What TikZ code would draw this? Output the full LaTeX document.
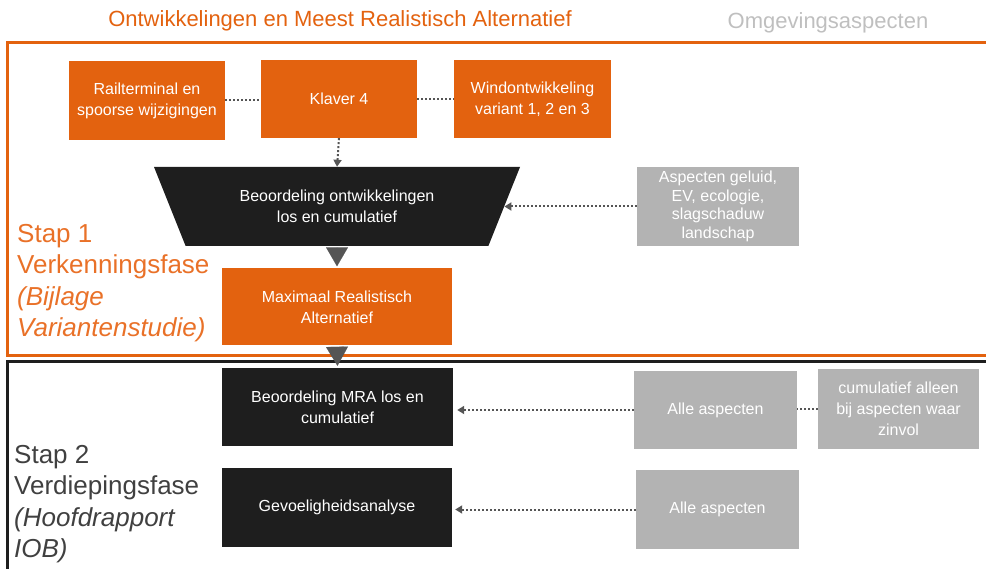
\documentclass[tikz,border=0pt]{standalone}
\usepackage{fontspec}
\setmainfont{Liberation Sans}
\usetikzlibrary{shapes.geometric, arrows.meta}
\definecolor{ontworanje}{RGB}{227,98,15}
\definecolor{tekstoranje}{RGB}{233,113,40}
\definecolor{vakgrijs}{RGB}{179,179,179}
\definecolor{vakzwart}{RGB}{30,30,30}
\definecolor{pijlgrijs}{RGB}{85,85,85}
\definecolor{kopgrijs}{RGB}{191,191,191}
\definecolor{stapgrijs}{RGB}{64,64,64}

\begin{document}
\begin{tikzpicture}[x=1pt, y=-1pt,
	vak/.style={rectangle, text=white, align=center, inner sep=1pt,
		font=\fontsize{16}{21}\selectfont},
	oranjevak/.style={vak, fill=ontworanje},
	zwartvak/.style={vak, fill=vakzwart},
	grijsvak/.style={vak, fill=vakgrijs},
	trechter/.style={vak, fill=vakzwart, trapezium, shape border rotate=180,
		trapezium angle=47.7, trapezium stretches body,
		minimum width=366pt, minimum height=79pt},
	stippel/.style={draw=pijlgrijs, line width=2pt, dash pattern=on 2pt off 2pt},
	stippelpijl/.style={stippel, -{Triangle[width=8pt, length=7pt]}},
	blokpijl/.style={draw=pijlgrijs, fill=pijlgrijs, line width=0.1pt,
		-{Triangle[width=22pt, length=19pt]}, shorten <=2pt, shorten >=2pt},
	kop/.style={font=\fontsize{22}{26}\selectfont},
	staptekst/.style={anchor=north west, inner sep=0pt, align=left,
		font=\fontsize{26}{31.5}\selectfont}]
	\useasboundingbox (0,0) rectangle (986,569);
	\clip (0,0) rectangle (986,569);

	\node [kop, text=ontworanje] (kopontw) at (340,21) {Ontwikkelingen en Meest Realistisch Alternatief};
	\node [kop, text=kopgrijs] (kopomg) at (828,23) {Omgevingsaspecten};

	\draw [ontworanje, line width=3pt] (995,43) -| (7,356) -- (995,356);
	\draw [vakzwart, line width=3pt] (995,362) -| (7,580);

	\node [oranjevak, minimum width=156pt, minimum height=79pt] (rail) at (147,100.5) {Railterminal en\\spoorse wijzigingen};
	\node [oranjevak, minimum width=156pt, minimum height=78pt] (klaver) at (339,99) {Klaver 4};
	\node [oranjevak, minimum width=157pt, minimum height=78pt] (wind) at (532.5,99) {Windontwikkeling\\variant 1, 2 en 3};
	\node [trechter] (trap) at (337,206.5) {Beoordeling ontwikkelingen\\los en cumulatief};
	\node [oranjevak, minimum width=230pt, minimum height=77pt] (mra) at (337,307) {Maximaal Realistisch\\Alternatief};
	\node [grijsvak, minimum width=162pt, minimum height=79pt, font=\fontsize{16}{18.5}\selectfont] (aspect) at (718,206.5) {Aspecten geluid,\\EV, ecologie,\\slagschaduw\\landschap};

	\node [zwartvak, minimum width=231pt, minimum height=78pt] (mrabeoord) at (337.5,407) {Beoordeling MRA los en\\cumulatief};
	\node [zwartvak, minimum width=230pt, minimum height=79pt] (gevoel) at (337,507.5) {Gevoeligheidsanalyse};
	\node [grijsvak, minimum width=163pt, minimum height=77pt] (alle1) at (715.5,410) {Alle aspecten};
	\node [grijsvak, minimum width=161pt, minimum height=80pt] (cumul) at (898.5,409) {cumulatief alleen\\bij aspecten waar\\zinvol};
	\node [grijsvak, minimum width=163pt, minimum height=79pt] (alle2) at (717.5,509.5) {Alle aspecten};

	\node [staptekst, text=tekstoranje] (stap1) at (17,224) {Stap 1\\Verkenningsfase\\\textit{(Bijlage}\\\textit{Variantenstudie)}};
	\node [staptekst, text=stapgrijs] (stap2) at (14,445) {Stap 2\\Verdiepingsfase\\\textit{(Hoofdrapport}\\\textit{IOB)}};

	\draw [stippel] (rail.east) -- (rail.east -| klaver.west);
	\draw [stippel] (klaver.east) -- (klaver.east -| wind.west);
	\draw [stippelpijl] (klaver.south) -- (trap.north);
	\draw [stippelpijl] (aspect.west) -- (trap.east);
	\draw [stippelpijl, shorten >=4pt] (alle1.west) -- (alle1.west -| mrabeoord.east);
	\draw [stippel] (cumul.west) -- (cumul.west -| alle1.east);
	\draw [stippelpijl, shorten >=3pt] (alle2.west) -- (alle2.west -| gevoel.east);
	\draw [blokpijl] (trap.south) -- (mra.north);
	\draw [blokpijl] (mra.south) -- (mrabeoord.north);
\end{tikzpicture}
\end{document}
